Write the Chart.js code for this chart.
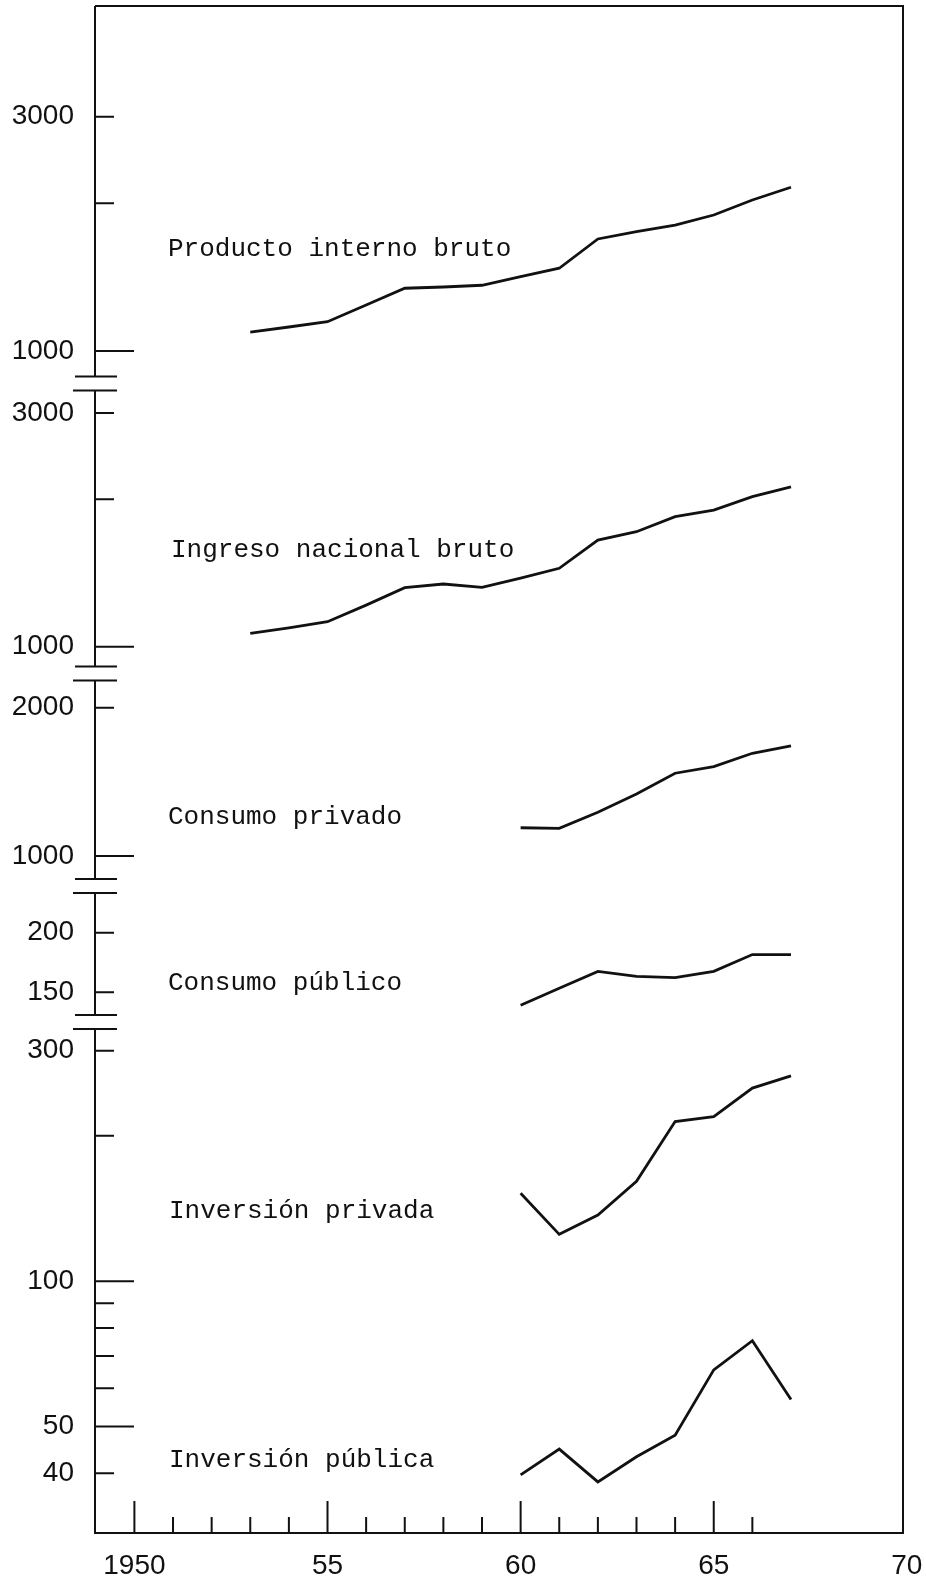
<!DOCTYPE html>
<html>
<head>
<meta charset="utf-8">
<script src="https://cdn.jsdelivr.net/npm/chart.js@4.4.1/dist/chart.umd.min.js"></script>
<style>
  html, body { margin: 0; padding: 0; background: #fff; }
  #wrap { width: 926px; height: 1576px; }
</style>
</head>
<body>
<div id="wrap"><canvas id="myChart" width="926" height="1576"></canvas></div>
<script>
// years on the x axis
const years = [1953, 1954, 1955, 1956, 1957, 1958, 1959, 1960, 1961, 1962, 1963, 1964, 1965, 1966, 1967];
const years60 = [1960, 1961, 1962, 1963, 1964, 1965, 1966, 1967];

// series
const productoInterno = [1092, 1119, 1147, 1241, 1342, 1350, 1361, 1417, 1474, 1691, 1750, 1805, 1892, 2030, 2155];
const ingresoNacional = [1065, 1093, 1125, 1216, 1320, 1343, 1322, 1380, 1446, 1651, 1717, 1843, 1901, 2025, 2121];
const consumoPrivado = [1141, 1138, 1227, 1336, 1472, 1518, 1616, 1672];
const consumoPublico = [141, 153, 166, 162, 161, 166, 180, 180];
const inversionPrivada = [152, 125, 137, 161, 214, 219, 251, 266];
const inversionPublica = [39.7, 44.9, 38.4, 43.3, 48.0, 65.5, 75.3, 56.9];

// tick labels
const xLabelYears = [1950, 1955, 1960, 1965, 1970];
const xLabelText = ["1950", "55", "60", "65", "70"];
const xMinorYears = [1950, 1951, 1952, 1953, 1954, 1955, 1956, 1957, 1958, 1959, 1960, 1961, 1962, 1963, 1964, 1965, 1966];

const pibTicks = [1000, 2000, 3000];
const pibTickText = ["1000", "", "3000"];
const inbTicks = [1000, 2000, 3000];
const inbTickText = ["1000", "", "3000"];
const cprTicks = [1000, 2000];
const cprTickText = ["1000", "2000"];
const cpuTicks = [150, 200];
const cpuTickText = ["150", "200"];
const invTicks = [40, 50, 60, 70, 80, 90, 100, 200, 300];
const invTickText = ["40", "50", "", "", "", "", "100", "", "300"];

const seriesNames = ["Producto interno bruto", "Ingreso nacional bruto", "Consumo privado",
  "Consumo público", "Inversión privada", "Inversión pública"];

const pairs = (xs, ys) => xs.map((x, i) => ({ x: x, y: ys[i] }));

const NUM_FONT = { family: "Liberation Sans", size: 28 };
const INK = "#111";

function yAxis(min, max, weight, ticks, texts) {
  return {
    type: "logarithmic",
    position: "left",
    stack: "panels",
    stackWeight: weight,
    min: min,
    max: max,
    bounds: "data",
    grid: { display: false, drawTicks: false },
    border: { display: false },
    afterBuildTicks: (s) => { s.ticks = ticks.map((v) => ({ value: v })); },
    afterFit: (s) => { s.width = 95; s.paddingTop = 0; s.paddingBottom = 0; },
    ticks: {
      autoSkip: false,
      padding: 21,
      color: INK,
      font: NUM_FONT,
      callback: (v, i) => texts[i],
    },
  };
}

// top to bottom
const yIds = ["yPib", "yInb", "yCpr", "yCpu", "yInv"];
const longTicks = [1000, 100, 50];

const framePlugin = {
  id: "frame",
  afterDraw(chart) {
    const ctx = chart.ctx;
    const area = chart.chartArea;
    const xs = chart.scales.x;
    const L = area.left;
    ctx.save();
    ctx.strokeStyle = INK;
    ctx.lineWidth = 2;
    ctx.lineCap = "butt";
    ctx.beginPath();
    // top and right of the frame
    ctx.moveTo(L, area.top);
    ctx.lineTo(area.right, area.top);
    ctx.lineTo(area.right, area.bottom);
    // left axis pieces with breaks
    yIds.forEach((id, i) => {
      const s = chart.scales[id];
      const top = i === 0 ? area.top : s.top + 7;
      const bottom = i === yIds.length - 1 ? area.bottom : s.bottom - 7;
      ctx.moveTo(L, top);
      ctx.lineTo(L, bottom);
      if (i > 0) {
        ctx.moveTo(L - 20, s.top - 7);
        ctx.lineTo(L + 22, s.top - 7);
        ctx.moveTo(L - 22, s.top + 7);
        ctx.lineTo(L + 22, s.top + 7);
      }
      s.ticks.forEach((t) => {
        const y = s.getPixelForValue(t.value);
        const len = longTicks.includes(t.value) ? 39 : 19;
        ctx.moveTo(L, y);
        ctx.lineTo(L + len, y);
      });
    });
    // x ticks, pointing up
    xMinorYears.forEach((yr) => {
      const x = xs.getPixelForValue(yr);
      const len = yr % 5 === 0 ? 32 : 16;
      ctx.moveTo(x, area.bottom);
      ctx.lineTo(x, area.bottom - len);
    });
    ctx.stroke();

    // series names
    ctx.fillStyle = INK;
    ctx.font = "26px 'Liberation Mono'";
    ctx.textBaseline = "middle";
    ctx.textAlign = "left";
    const labelPos = [[168, 249], [171, 550], [168, 817], [168, 983], [169, 1211], [169, 1460]];
    seriesNames.forEach((name, i) => {
      ctx.fillText(name, labelPos[i][0], labelPos[i][1]);
    });
    ctx.restore();
  },
};

const lineSet = (name, xs, ys, axis) => ({
  label: name,
  data: pairs(xs, ys),
  yAxisID: axis,
  borderColor: INK,
  borderWidth: 2.8,
  pointRadius: 0,
  tension: 0,
  fill: false,
});

const Graphics = {
  ctx: document.getElementById("myChart").getContext("2d"),
  chart: {},
  execute: () => {
    const config = {
      type: "line",
      data: {
        datasets: [
          lineSet(seriesNames[0], years, productoInterno, "yPib"),
          lineSet(seriesNames[1], years, ingresoNacional, "yInb"),
          lineSet(seriesNames[2], years60, consumoPrivado, "yCpr"),
          lineSet(seriesNames[3], years60, consumoPublico, "yCpu"),
          lineSet(seriesNames[4], years60, inversionPrivada, "yInv"),
          lineSet(seriesNames[5], years60, inversionPublica, "yInv"),
        ],
      },
      options: {
        responsive: false,
        animation: false,
        devicePixelRatio: 1,
        layout: { padding: { top: 6, right: 23, left: 0, bottom: 0 } },
        plugins: { legend: { display: false }, tooltip: { enabled: false } },
        scales: {
          x: {
            type: "linear",
            position: "bottom",
            min: 1948.98,
            max: 1969.9,
            grid: { display: false },
            border: { display: true, color: INK, width: 2 },
            afterBuildTicks: (s) => { s.ticks = xLabelYears.map((v) => ({ value: v })); },
            afterFit: (s) => { s.height = 43; s.paddingLeft = 0; s.paddingRight = 0; },
            ticks: {
              autoSkip: false,
              maxRotation: 0,
              padding: 8,
              color: INK,
              font: NUM_FONT,
              callback: (v, i) => xLabelText[i],
            },
          },
          // the layout stacks these bottom-up, so the lowest panel comes first
          yInv: yAxis(30.1, 344, 511, invTicks, invTickText),
          yCpu: yAxis(130, 250.6, 136, cpuTicks, cpuTickText),
          yCpr: yAxis(869, 2346, 212.5, cprTicks, cprTickText),
          yInb: yAxis(881.7, 3447, 290, inbTicks, inbTickText),
          yPib: yAxis(858.6, 5041, 377.5, pibTicks, pibTickText),
        },
      },
      plugins: [framePlugin],
    };
    Graphics.chart = new Chart(Graphics.ctx, config);
  },
};

Graphics.execute();
</script>
</body>
</html>
